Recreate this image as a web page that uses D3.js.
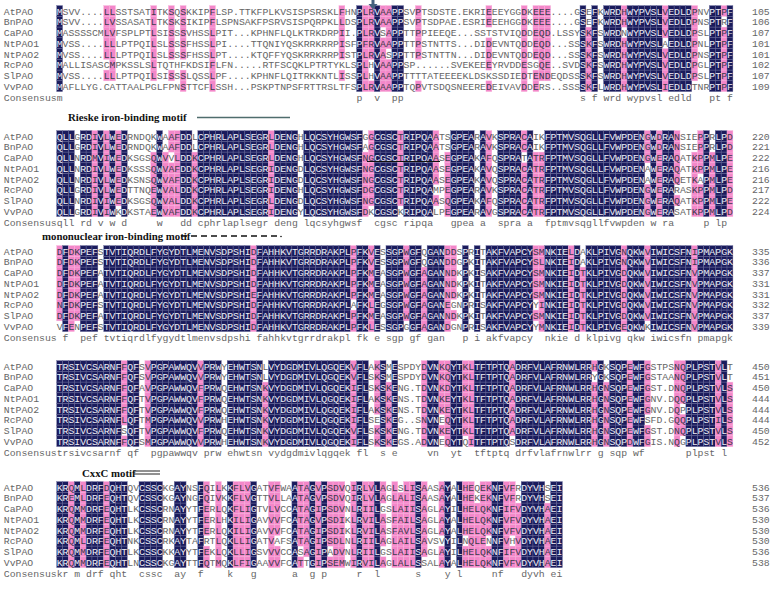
<!DOCTYPE html>
<html>
<head>
<meta charset="utf-8">
<script src="https://cdn.jsdelivr.net/npm/d3@7"></script>
<style>
  body { margin: 0; background: #fff; }
</style>
</head>
<body>
<div id="chart-area"></div>
<script>
// sequence names, one per row
const names = ["AtPAO", "BnPAO", "CaPAO", "NtPAO1", "NtPAO2", "RcPAO", "SlPAO", "VvPAO"];

// alignment blocks (gaps as ".")
const block1 = [
  "MSVV....LLSSTSATITKSQSKKIPFLSP.TTKFPLKVSISPSRSKLFHNPLRVAAPPSVPTSDSTE.EKRIEEEYGGDKEEE....GSEFKWRDHWYPVSLVEDLDPNVPTPF",
  "MSVV....LVSSASATLTKSKSIKIPFLSPNSAKFPSRVSISPQRPKLLDSPLRVAAPPSVPTSDPAE.ESRIEEEHGGDKEEE....GSEFKWRDHWYPVSLVEDLDPNSPTRF",
  "MASSSSCMLVFSPLPTLSISSSVHSSLPIT...KPHNFLQLKTRKDRPII.PLRVSAPPTTPPIEEQE...SSTSTVIQDDEQD.LSSYSKFSWRDNWYPVSLVEDLDPSLPTPF",
  "MVSS....LLLPTPQILSLSSSFHSSLPI....TTQNIYQSKRRKRRPISFPFRVAAPPTTPSTNTTS...DIDEVNTQDDEQD...SSSKFSWRDHWYPVSLAEDLDPNLPTPF",
  "MVSS....LLLPTPQILSLSSSFHSSLPT....KTQFFYQSKRRKRRPISTPLRVASPPTTPSTNTTN...DIDEVNTQDDEQD...SSSKFSWRDHWYPVSLVEDLDPNSPTPF",
  "MALLISASCMPKSSLSLTQTHFKDSIFLFN.....RTFSCQKLPTRTYKLSPLHVAAPPSP......SVEKEEEYRVDDESGQE..SVDSKFSWRDHWYPVSLVEDLDPGLPTPF",
  "MVSS....LLLPTPQILSISSSLQSSLPF....KPHNFLQITRKKNTLISSPLHVAAPPTTTTATEEEEKLDSKSSDIEDTENDEQDSSSKFSWRDHWYPVSLVEDLDPSLPTPF",
  "MAFLLYG.CATTAALPGLFPNSTTCFLSSH...PSKPTNPSFRTTRSLTFSPLRVAAPPTQPVTSDQSNEEREDEIVAVDDERS..SSSSKFLWRDHWYPVSLIEDLDTNRPTPF"
];
const block2 = [
  "QLLGRDIVLWEDRNDQKWAAFDDLCPHRLAPLSEGRLDENGHLQCSYHGWSFGGCGSCTRIPQAATSGPEARAVKSPRACAIKFPTMVSQGLLFVWPDENGWDRANSIEPPRLPD",
  "QLLGRDIVLWEDRNDQKWAAFDDLCPHRLAPLSEGRLDENGHLQCSYHGWSFAGCGSCTRIPQAATSGPEARAVKSPRACAIKFPTMVSQGLLFVWPDENGWDRANSIEPPRLPD",
  "QLLNRDMVIWEDKSGSQWVVLDDKCPHRLAPLSEGRLDENGHLQCSYHGWSFNGCGSCTRIPQAASEGPEAKAFQSPRATATRFPTMVSQGLLFVWPDENGWERAQATKPPMLPE",
  "QLLNRDIVLWEDKSSSQWVAFDDKCPHRLAPLSEGRIDENGDLQCSYHGWSFNGCGSCTRIPQAASEGPEAKAVQSPRACATRFPTMVSQGLLFVWPDENAWERAQATKPPMLPE",
  "QLLNRDIVLWEDKSNSQWVAFDDKCPHRLAPLSEGRIDENGDLQCSYHGWSFNGCGSCTRIPQAASEGPEAKAVQSPRACATRFPTMVSQGLLFVWPDENAWERAQETKAPMLPE",
  "QLLGRDIVLWEDTTNQEWVALDDKCPHRLAPLSEGRIDENGHLQCSYHGWSFDGCGSCTRIPQAMPEGPEARAVKSPRACATRFPTMVSQGLLFVWPDENGWERARASKPPMLPD",
  "QLLNRDIVIWEDKSGSQWVALDDKCPHRLAPLSEGRLDENGDLQCSYHGWSFNGCGSCTRIPQAASQGPEAKAFQSPRACATRFPTMVSQGLLFVWPDENGWERAQATKPPMLPE",
  "QLLGRDIVIWKDKSTAEWVAFDDKCPHRLAPLSEGRIDENGYLQCSYHGWSFDKCGSCKRIPQALPEGPEARAVGSPRACATRFPTMVSQGLLFVWPDENGWERASATKPPMLPD"
];
const block3 = [
  "DFDKPEFSTVTIQRDLFYGYDTLMENVSDPSHIDFAHHKVTGRRDRAKPLPFKVESSGPWGFQGANDDSPRITAKFVAPCYSMNKIELDAKLPIVGNQKWVIWICSFNIPMAPGK",
  "DFDKPEFSTVTIQRDLFYGYDTLMENVSDPSHIDFAHHKVTGRRDRAKPLPFKVESSGPWGFQGANDDGPKITAKFVAPCYSLNKIEIDAKLPIVGNQKWVIWICSFNIPMAPGK",
  "DFDKPEFATVTIQRDLFYGYDTLMENVSDPSHIDFAHHKVTGRRDRAKPLPFKMEASGPWGFAGANNDKPKISAKFVAPCYSMNKIEIDTKLPIVGDQKWVIWICSFNVPMAPGK",
  "DFDKPEFATVTIQRDLFYGYDTLMENVSDPSHIDFAHHKVTGRRDRAKPLPFKMEASGPWGFAGANNDKPKITAKFVAPCYSMNKIEIDTKLPIVGDQKWVIWICSFNVPMAPGK",
  "DFDKPEFATVTIQRDLFYGYDTLMENVSDPSHIEFAHHKVTGRRDRAKPLPFKMEASGPWGFAGANNDKPKITAKFVAPCYSMNKIEIDTKLPIVGDQKWVIWICSFNVPMAPGK",
  "NFDKPEFSTVTIQRDLFYGYDTLMENVSDPSHIDFAHHKVTGRRDRAKPLAFKLEGSGPWGFAGANEGNPRISAKFVAPCYYINKIEIDTKLPIVGDQKWVIWICSFNVPMAPGK",
  "DFDKPEFATVTIQRDLFYGYDTLMENVSDPSHIDFAHHKVTGRRDRAKPLPFKMEASGPWGFAGANNDKPKITAKFVAPCYSMNKIEIDTKLPIVGDQKWVIWICSFNVPMAPGK",
  "VFENPEFSTVTIQRDLFYGYDTLMENVSDPSHIDFAHHKVTGRRDRAKPLPFKLESSGPGGFAGANDGNPRISAKFVAPCYYMNKIEIDTKLPIVGEQKWKIWICSFNVPMAPGK"
];
const block4 = [
  "TRSIVCSARNFFQFSVPGPAWWQVVPRWYEHWTSNLVYDGDMIVLQGQEKVFLAKSMESPDYDVNKQYTKLTFTPTQADRFVLAFRNWLRRHGKSQPEWFGSTPSNQPLPSTVLT",
  "TRSIVCSARNFFQFSVPGPAWWQVVPRWYEHWTSNLVYDGDMIVLQGQEKVFLSKSMESPDYDVNKQYTKLTFTPTQADRFVLAFRNWLRRYGKSQPEWFGSTAANQPLPSTVLT",
  "TRSIVCSARNFFQFAVPGPAWWQVFPRWQEHWTSNKVYDGDMIVLQGQEKIFLSKSKENG.TDVNKDYTKLTFTPTQADRFVLAFRNWLRRHGNSQPEWFGST.DNQPLPSTVLS",
  "TRSIVCSARNFFQFTVPGPAWWQVFPRWQEHWTSNKVYDGDMIVLQGQEKIFLAKSKENS.TDVNKEYTKLTFTPTQADRFVLAFRNWLRRHGNSQPEWFGNV.DQQPLPSTVLS",
  "TRSIVCSARNFFQFTVPGPAWWQVFPRWQEHWTSNKVYDGDMIVLQGQEKIFLAKSKENS.TDVNKEYTKLTFTPTQADRFVLAFRNWLRRHGNSQPEWFGNV.DQPPLPSTVLS",
  "TRSIVCSARNFLQFTMPGPAWWQVVPRWHEHWTSNKVYDGDMIVLQGQEKIFLSESKEG..SNVNEQYTKLTFTPTQADRFVLAFRNWLRRHGNSQPEWFSFD.GQQPLPSTILS",
  "TRSIVCSARNFSQFTVPGPAWWQVFPRWQEHWTSNKVYDGDMIVLQGQEKVFLSKSKENG.TDVNKEYTKLTFTPTQADRFVLAFRNWLRRHGNSQPEWFGST.DNQPLPSTVLS",
  "TRSIVCSARNFFQFSMPGPAWWQVVPRWHEHWTSNKVYDGDMIVLQGQEKIFLSKSKEGS.ADVNEQYTQITFTPTQSDRFVLAFRNWLRRHGNSQPDWFGIS.NQGPLPSTVLS"
];
const block5 = [
  "KRQMLDRFDQHTQVCSSCKGAYNSFQILKKFLVGATVFWAATAGVPSDVQIRLVLAGLSLISAASAYALHEQEKNFVFRDYVHSEI",
  "KREMLDRFEQHTQVCSSCKGAYNGFQIVKKFLVGTTVLLAATAGVPSDVQIRLVLAGLALISAASAYALHEKEKNFVFRDYVHSEI",
  "KRQMMDRFEQHTLKCSSCRNAYYTFERLQKFLIGTVLVCCATAGIPSDVNLRIILGSLAIISAGLAYILHELQKNFIFVDYVHAEI",
  "KRQMMDRFEQHTLKCSSCRNAYYTFERLHKILIGAVVVFCATAGVPSDIKLRVILASFAILSAGLAYALHELQKNFVFVDYVHAEI",
  "KRQMMDRFEQHTLKCSSCRNAYYTFERLQKILIGAVVVFCATAGIPSDIKLRVILASFAVLSAGLAYALHELQKNFVFVDYVHAEI",
  "KRQMLDRFEQHTNKCSSCRKAYTAFRTLQKLLIGATVAFSATAGIPSDLNLRIILAGLAILSAVSVYILNQLENNFVHVDYVHAEI",
  "KRQMMDRFEQHTLKCSSCKKAYYTFEKLQKLLIGSVVVCCASAGIPADVNLRIILGSLAIISAGLAYILHELQKNFIFVDYVHAEI",
  "KRQMMDRFEQHTLNCSSCKGAYTTFQTMQKLFIGAAVVFCATTGIPSEMWIRVILAGLALLSSALAYALHELQKNFVFVDYVHAEI"
];

// residue numbers at the end of each row
const ends1 = [105, 106, 107, 101, 101, 102, 107, 109];
const ends2 = [220, 221, 222, 216, 216, 217, 222, 224];
const ends3 = [335, 336, 337, 331, 331, 332, 337, 339];
const ends4 = [450, 451, 450, 444, 444, 444, 450, 452];
const ends5 = [536, 537, 536, 530, 530, 530, 536, 538];

const motifs = ["Rieske iron-binding motif", "mononuclear iron-binding motif", "CxxC motif"];

// residues treated as similar when shading
const simGroups = ["ILVMF", "DENQ"];

const blocks = [block1, block2, block3, block4, block5];
const ends = [ends1, ends2, ends3, ends4, ends5];

const navy = "#1a1b5c", pink = "#f387c9";
const cw = 5.88, rh = 10.75, x0 = 56.7;
const mono = "'Liberation Mono', 'Courier New', monospace";
const serif = "'Liberation Serif', 'Times New Roman', serif";

const svg = d3.select("#chart-area").append("svg")
    .attr("width", 778)
    .attr("height", 589);

const x = d3.scaleLinear().domain([0, 115]).range([x0, x0 + 115 * cw]);
const rowKeys = names.concat(["Consensus"]);
const blockTops = [5.6, 130.6, 245.6, 360.6, 481.6];

function group(c) {
    return simGroups.find(g => g.includes(c));
}

function shade(col, r) {
    const c = col[r];
    if (c === ".") return "none";
    if (col.every(d => d === c)) return "navy";
    const g = group(c);
    const n = col.filter(d => d === c || (g && group(d) === g)).length;
    return n >= 6 ? "pink" : "none";
}

blocks.forEach((seqs, b) => {
    const y = d3.scaleBand()
        .domain(rowKeys)
        .range([blockTops[b], blockTops[b] + rowKeys.length * rh]);
    const g = svg.append("g");
    const ncol = seqs[0].length;
    const cols = d3.range(ncol).map(i => seqs.map(s => s[i] || "."));

    const cells = [];
    seqs.forEach((s, r) => {
        s.split("").forEach((ch, i) => {
            cells.push({ r: r, i: i, ch: ch, cls: shade(cols[i], r) });
        });
    });

    g.selectAll("rect")
        .data(cells.filter(d => d.cls !== "none"))
        .join("rect")
            .attr("x", d => x(d.i))
            .attr("y", d => y(names[d.r]))
            .attr("width", cw)
            .attr("height", y.bandwidth())
            .attr("fill", d => d.cls === "navy" ? navy : pink)
            .attr("stroke", d => d.cls === "navy" ? "#6d6f9e" : "#f7b3dc")
            .attr("stroke-width", 0.4);

    g.selectAll("text.res")
        .data(cells)
        .join("text")
            .attr("class", "res")
            .attr("x", d => x(d.i) + cw / 2)
            .attr("y", d => y(names[d.r]) + y.bandwidth() / 2)
            .attr("dy", "0.36em")
            .attr("text-anchor", "middle")
            .attr("font-family", mono)
            .attr("font-size", 9.8)
            .attr("fill", d => d.cls === "navy" ? "#eeeef6" : (d.cls === "pink" ? "#3c3c4c" : "#666"))
            .text(d => d.ch);

    // row names and consensus label
    g.selectAll("text.name")
        .data(rowKeys)
        .join("text")
            .attr("class", "name")
            .attr("x", x0 - 9 * cw)
            .attr("y", d => y(d) + y.bandwidth() / 2)
            .attr("dy", "0.36em")
            .attr("font-family", mono)
            .attr("font-size", 9.8)
            .attr("fill", "#666")
            .text(d => d);

    // consensus: fully conserved columns
    const cons = cols.map((c, i) => ({ i: i, ch: c.every(d => d === c[0]) && c[0] !== "." ? c[0].toLowerCase() : "" }))
        .filter(d => d.ch);
    g.selectAll("text.cons")
        .data(cons)
        .join("text")
            .attr("class", "cons")
            .attr("x", d => x(d.i) + cw / 2)
            .attr("y", y("Consensus") + y.bandwidth() / 2)
            .attr("dy", "0.36em")
            .attr("text-anchor", "middle")
            .attr("font-family", mono)
            .attr("font-size", 9.8)
            .attr("fill", "#666")
            .text(d => d.ch);

    g.selectAll("text.num")
        .data(ends[b])
        .join("text")
            .attr("class", "num")
            .attr("x", 752)
            .attr("y", (d, r) => y(names[r]) + y.bandwidth() / 2)
            .attr("dy", "0.36em")
            .attr("font-family", mono)
            .attr("font-size", 9.8)
            .attr("fill", "#666")
            .text(d => d);
});

// motif annotations
const ann = svg.append("g")
    .attr("font-family", serif)
    .attr("font-weight", "bold")
    .attr("font-size", 10.8)
    .attr("fill", "#111");

ann.append("text").attr("x", 68).attr("y", 121).text(motifs[0]);
ann.append("line")
    .attr("x1", 197).attr("x2", 290).attr("y1", 117.5).attr("y2", 117.5)
    .attr("stroke", "#4f6d6d").attr("stroke-width", 1.3);
ann.append("line")
    .attr("x1", 367).attr("x2", 440).attr("y1", 161.5).attr("y2", 161.5)
    .attr("stroke", "#111").attr("stroke-width", 1);

ann.append("text").attr("x", 42).attr("y", 239.5).text(motifs[1]);
ann.append("line")
    .attr("x1", 181).attr("x2", 278).attr("y1", 236).attr("y2", 236)
    .attr("stroke", "#111").attr("stroke-width", 1.3)
    .attr("stroke-dasharray", "6,4");
ann.append("circle").attr("cx", 281).attr("cy", 236.5).attr("r", 0.8).attr("fill", "#111");

ann.append("text").attr("x", 82).attr("y", 477).text(motifs[2]);
[471, 474].forEach(yy => {
    ann.append("line")
        .attr("x1", 133).attr("x2", 160).attr("y1", yy).attr("y2", yy)
        .attr("stroke", "#222").attr("stroke-width", 1);
});

// arrow marking a conserved residue
svg.append("path")
    .attr("d", "M371.5,0 L374.5,0 L374.5,4 L377.5,4 L373,9.5 L368.5,4 L371.5,4 Z")
    .attr("fill", "#45627f");
</script>
</body>
</html>
